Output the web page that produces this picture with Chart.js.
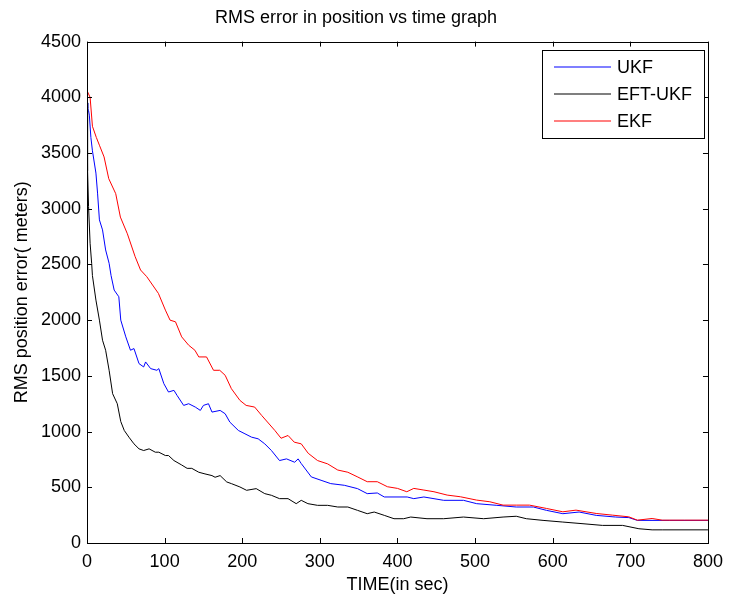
<!DOCTYPE html>
<html lang="en">
<head>
    <meta charset="UTF-8">
    <title>RMS error in position vs time graph</title>
    <script src="https://cdn.jsdelivr.net/npm/chart.js"></script>
    <style>
        body { margin: 0; background: #fff; }
        #wrap { width: 731px; height: 596px; }
    </style>
</head>
<body>
    <div id="wrap"><canvas id="grafico"></canvas></div>

    <script>
        // valores (tempo em s, erro em metros)
        const ukfTempo = [0,1,2,3,5,7,11.5,13.6,16,20,24,28.5,31,35,41,43.5,50,56,60.5,67,73,75.5,82,90,92.5,99,105,112,116,124.5,131,139.5,146,150,156.5,161,171.5,178,184,195,203.5,212,220.5,229,237.6,248,257,267.5,272,276,289,301.5,314,331.5,348.5,361,374,383,412.5,421,434,459.5,485,502,528,553,575,592,613,634,656,681,698,709,750,800];
        const ukfErro = [3950,3900,3880,3840,3640,3520,3320,3140,2900,2810,2630,2510,2400,2270,2210,2000,1850,1730,1745,1610,1580,1625,1565,1550,1565,1430,1355,1370,1325,1235,1250,1220,1190,1235,1250,1175,1190,1160,1085,1010,980,950,935,890,830,740,755,725,755,713,593,563,533,518,488,443,449,413,413,398,413,383,383,353,338,323,323,293,263,278,248,233,228,203,203,203];

        const eftTempo = [0,0.5,1,2,4,6,7,11.5,16,20,24,28.5,33,39,43.5,48,54,60.5,67,73,80,88,92.5,101,105,112,122,129,135,144,152,161,165,171.5,180,186,197,205.6,218,229,237.6,248,259,269.5,276,284.6,297,310,323,336,348.5,361,370,383,395.5,408,417,438,459.5,485,511,536,553,566,587.5,613,639,664,690,711,728,741,800];
        const eftErro = [3950,3600,3340,3020,2690,2510,2400,2180,2000,1820,1730,1550,1340,1250,1090,1010,950,890,845,830,845,815,815,785,785,740,700,670,670,635,620,605,590,605,548,533,503,473,488,443,428,398,398,353,383,353,338,338,323,323,293,263,278,248,218,218,233,218,218,233,218,233,240,218,203,188,173,158,158,128,118,118,118];

        const ekfTempo = [0,2,4,7,12,16,22,28,37,43,52,62,69,77,92,101,107,114,122,131,139,144,154,163,171,178,186,197,205,216,225,242,250,259,267,276,285,297,310,323,336,348,361,374,387,400,412,421,434,447,464,481,502,519,536,553,570,592,613,630,656,677,698,709,728,741,770,800];
        const ekfErro = [4060,4030,4000,3740,3640,3570,3465,3270,3135,2925,2775,2570,2450,2390,2240,2090,2000,1985,1850,1775,1730,1670,1670,1550,1550,1505,1385,1280,1235,1220,1145,1010,940,965,905,890,805,740,710,655,635,595,550,550,505,490,460,490,475,460,430,415,385,370,340,340,340,310,280,295,265,250,235,205,220,205,205,205];

        const nomes = ['UKF', 'EFT-UKF', 'EKF'];
        const cores = ['#0000ff', '#000000', '#ff0000'];

        const fonte = "'Liberation Sans', Arial, sans-serif";
        const pontos = (t, v) => t.map((x, i) => ({ x: x, y: v[i] }));

        // moldura, marcas internas e legenda
        const moldura = {
            id: 'moldura',
            afterDatasetsDraw(chart) {
                const { ctx, chartArea: a, scales } = chart;
                ctx.save();
                ctx.strokeStyle = '#000';
                ctx.lineWidth = 1;
                ctx.strokeRect(Math.round(a.left) + 0.5, Math.round(a.top) + 0.5,
                    Math.round(a.right - a.left), Math.round(a.bottom - a.top));
                ctx.beginPath();
                scales.x.ticks.forEach(t => {
                    const px = Math.round(scales.x.getPixelForValue(t.value)) + 0.5;
                    ctx.moveTo(px, a.bottom); ctx.lineTo(px, a.bottom - 5);
                    ctx.moveTo(px, a.top); ctx.lineTo(px, a.top + 5);
                });
                scales.y.ticks.forEach(t => {
                    const py = Math.round(scales.y.getPixelForValue(t.value)) + 0.5;
                    ctx.moveTo(a.left, py); ctx.lineTo(a.left + 5, py);
                    ctx.moveTo(a.right, py); ctx.lineTo(a.right - 5, py);
                });
                ctx.stroke();

                const bx = 542.5, by = 50.5, bw = 162, bh = 88;
                ctx.fillStyle = '#fff';
                ctx.fillRect(bx, by, bw, bh);
                ctx.strokeRect(bx, by, bw, bh);
                ctx.font = '18px ' + fonte;
                ctx.textBaseline = 'middle';
                nomes.forEach((nome, i) => {
                    const y = 67 + i * 27;
                    ctx.strokeStyle = cores[i];
                    ctx.lineWidth = 1.2;
                    ctx.beginPath();
                    ctx.moveTo(554, y); ctx.lineTo(611, y);
                    ctx.stroke();
                    ctx.fillStyle = '#000';
                    ctx.fillText(nome, 617, y + 1);
                });
                ctx.restore();
            }
        };

        const ctx = document.getElementById('grafico').getContext('2d');
        const grafico = new Chart(ctx, {
            type: 'line',
            data: {
                datasets: [
                    { label: nomes[0], data: pontos(ukfTempo, ukfErro), borderColor: cores[0], order: 2 },
                    { label: nomes[1], data: pontos(eftTempo, eftErro), borderColor: cores[1], order: 1 },
                    { label: nomes[2], data: pontos(ekfTempo, ekfErro), borderColor: cores[2], order: 0 }
                ]
            },
            options: {
                responsive: true,
                maintainAspectRatio: false,
                animation: false,
                layout: { padding: { left: 0, right: 19, top: 0, bottom: 0 } },
                elements: {
                    line: { borderWidth: 1, tension: 0 },
                    point: { radius: 0 }
                },
                plugins: {
                    legend: { display: false },
                    tooltip: { enabled: false },
                    title: {
                        display: true,
                        text: 'RMS error in position vs time graph',
                        color: '#000',
                        font: { family: fonte, size: 18, weight: 'normal' },
                        padding: { top: 7, bottom: 13 }
                    }
                },
                scales: {
                    x: {
                        type: 'linear',
                        min: 0, max: 800,
                        grid: { display: false, drawTicks: false, tickLength: 0 },
                        border: { display: false },
                        ticks: { stepSize: 100, color: '#000', padding: 8, font: { family: fonte, size: 18 },
                                 callback: v => String(v) },
                        title: {
                            display: true, text: 'TIME(in sec)', color: '#000',
                            font: { family: fonte, size: 18 }, padding: { top: 0, bottom: 0 }
                        },
                        afterFit(s) { s.height = 53; }
                    },
                    y: {
                        min: 0, max: 4500,
                        grid: { display: false, drawTicks: false, tickLength: 0 },
                        border: { display: false },
                        ticks: { stepSize: 500, color: '#000', padding: 6, font: { family: fonte, size: 18 },
                                 callback: v => String(v) },
                        title: {
                            display: true, text: 'RMS position error( meters)', color: '#000',
                            font: { family: fonte, size: 18 }, padding: { top: 11, bottom: 0 }
                        },
                        afterFit(s) { s.width = 87; }
                    }
                }
            },
            plugins: [moldura]
        });
    </script>
</body>
</html>
